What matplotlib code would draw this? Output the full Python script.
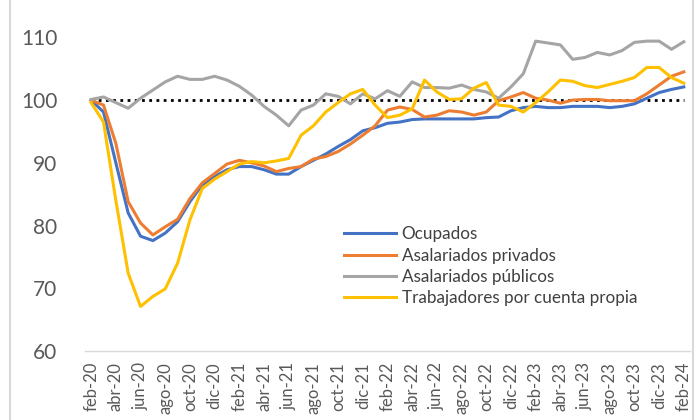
import matplotlib
matplotlib.use("Agg")
import matplotlib.pyplot as plt
from matplotlib.lines import Line2D

# Monthly index (feb-20 = 100), feb-20 .. feb-24
months = ["feb", "mar", "abr", "may", "jun", "jul", "ago", "sep", "oct", "nov", "dic", "ene"]
labels = []
year = 20
for k in range(49):
    m = months[k % 12]
    if m == "ene":
        year += 1
    labels.append(f"{m}-{year}")

ocupados = [100.0, 98.1, 90.0, 82.0, 78.3, 77.6, 78.8, 80.6, 83.8, 86.5,
            87.8, 88.9, 89.4, 89.4, 88.9, 88.2, 88.2, 89.4, 90.4, 91.4,
            92.6, 93.7, 95.1, 95.6, 96.3, 96.5, 96.9, 97.0, 97.0, 97.0,
            97.0, 97.0, 97.2, 97.3, 98.3, 98.8, 99.0, 98.8, 98.8, 99.0,
            99.0, 99.0, 98.8, 99.0, 99.4, 100.3, 101.2, 101.7, 102.1]
privados = [100.0, 99.2, 93.1, 83.8, 80.4, 78.5, 79.8, 81.0, 84.3, 86.8,
            88.3, 89.8, 90.4, 90.0, 89.5, 88.6, 89.1, 89.4, 90.6, 91.0,
            91.8, 93.0, 94.4, 95.9, 98.4, 98.9, 98.5, 97.3, 97.6, 98.3,
            98.1, 97.6, 98.1, 99.9, 100.5, 101.2, 100.3, 100.0, 99.5, 100.0,
            100.1, 100.1, 99.9, 99.9, 99.9, 101.0, 102.4, 103.8, 104.5]
publicos = [100.1, 100.5, 99.6, 98.7, 100.3, 101.6, 102.9, 103.8, 103.3, 103.3,
            103.8, 103.2, 102.2, 100.8, 99.0, 97.6, 95.9, 98.4, 99.2, 101.0,
            100.6, 99.4, 101.0, 100.2, 101.5, 100.6, 102.9, 102.0, 102.0, 101.9,
            102.4, 101.7, 101.3, 100.3, 102.1, 104.2, 109.4, 109.1, 108.8, 106.5,
            106.8, 107.6, 107.2, 107.9, 109.2, 109.4, 109.4, 108.1, 109.3]
cuenta_propia = [99.6, 96.5, 84.0, 72.4, 67.1, 68.7, 69.9, 74.0, 80.9, 85.9,
                 87.4, 88.6, 89.8, 90.2, 90.0, 90.3, 90.7, 94.4, 95.9, 98.1,
                 99.6, 101.0, 101.7, 99.2, 97.2, 97.6, 98.6, 103.2, 101.3, 100.1,
                 100.2, 101.9, 102.8, 99.2, 99.0, 98.1, 99.6, 101.3, 103.2, 103.0,
                 102.3, 102.0, 102.5, 103.0, 103.6, 105.2, 105.2, 103.6, 102.7]
base = [100] * 49

series = [
    ("Ocupados", ocupados, "#4472C4"),
    ("Asalariados privados", privados, "#ED7D31"),
    ("Asalariados públicos", publicos, "#A5A5A5"),
    ("Trabajadores por cuenta propia", cuenta_propia, "#FFC000"),
]

plt.rcParams["font.family"] = ["Lato", "DejaVu Sans"]

fig = plt.figure(figsize=(7, 4.2), dpi=100)
ax = fig.add_axes([0.1214, 0.1643, 0.8643, 0.8214])

x = list(range(len(labels)))
ax.plot(x, base, color="black", linestyle=(0, (1, 1.6)), linewidth=2)
for name, vals, col in series:
    ax.plot(x, vals, color=col, linewidth=2.2, label=name)

ax.set_xlim(-0.5, 48.5)
ax.set_ylim(60, 115)
ax.set_yticks([60, 70, 80, 90, 100, 110])
ax.set_xticks(x[::2])
ax.set_xticklabels(labels[::2], rotation=90)
ax.tick_params(axis="y", length=0, labelsize=15, labelcolor="#595959", pad=20)
ax.tick_params(axis="x", length=0, labelsize=12, labelcolor="#595959", pad=8)

for s in ["top", "right", "left"]:
    ax.spines[s].set_visible(False)
ax.spines["bottom"].set_color("#D9D9D9")
ax.spines["bottom"].set_linewidth(1)

leg = ax.legend(loc="upper left", bbox_to_anchor=(329 / 700, 1 - 211 / 420),
                bbox_transform=fig.transFigure, frameon=False, fontsize=12.3,
                handlelength=3.05, labelspacing=0.3, handletextpad=0.3)
for t in leg.get_texts():
    t.set_color("#404040")

# chart border lines
for xb in (10, 693):
    fig.add_artist(Line2D([xb / 700, xb / 700], [0, 1], color="#D9D9D9", linewidth=1.5,
                          transform=fig.transFigure))

fig.savefig("out.png", dpi=100)
